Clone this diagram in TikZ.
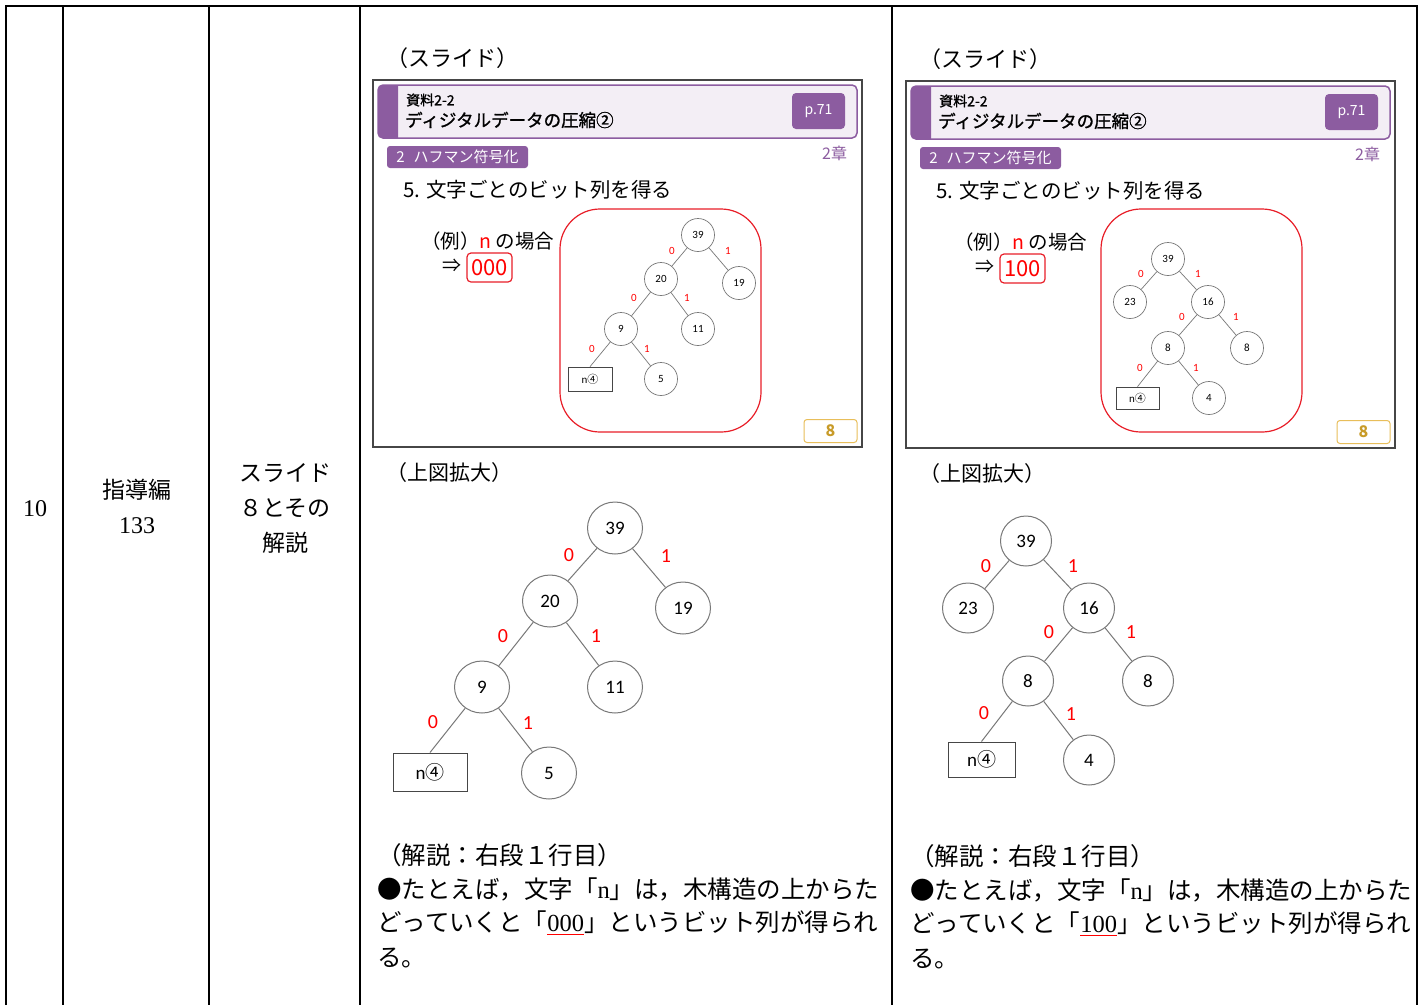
\documentclass[tikz,border=0pt]{standalone}
\usepackage{fontspec}
\usetikzlibrary{shapes.geometric}
\setmainfont{Liberation Serif}
\newfontfamily\jp{Noto Sans CJK JP}
\newfontfamily\jpm[FakeBold=1.2]{Noto Sans CJK JP}
\newfontfamily\calfont{Carlito}
\newcommand\fsz[1]{\fontsize{#1}{#1}\selectfont}
\definecolor{spurple}{RGB}{140,92,160}
\definecolor{slav}{RGB}{243,238,245}
\definecolor{sred}{RGB}{232,30,40}
\definecolor{lblred}{RGB}{255,0,0}
\definecolor{sgold}{RGB}{232,190,90}
\definecolor{sgoldtxt}{RGB}{200,155,40}
\definecolor{edgegray}{RGB}{120,120,120}
\definecolor{framec}{RGB}{70,70,70}
\newcommand\redul[1]{\setbox0\hbox{#1}\rlap{\textcolor{red}{\rule[-4pt]{\wd0}{1.5pt}}}\box0}
\tikzset{
  tbl/.style={line width=2.5pt, black},
  txt/.style={inner sep=0pt, anchor=west},
  ctxt/.style={inner sep=0pt, align=center},
  bc/.style={ellipse, draw=edgegray, line width=1pt, minimum width=55pt, minimum height=52pt, inner sep=0pt, font=\calfont\fsz{19}},
  bbox/.style={rectangle, draw=framec, line width=1pt, inner sep=0pt, font=\calfont\fsz{19}},
  bl/.style={text=lblred, font=\calfont\fsz{20}, inner sep=0pt},
  be/.style={draw=edgegray, line width=1pt},
  sc/.style={circle, draw=edgegray, line width=0.7pt, minimum size=33pt, inner sep=0pt, font=\calfont\fsz{11}},
  sbox/.style={rectangle, draw=framec, line width=0.7pt, inner sep=0pt, font=\calfont\fsz{11}},
  sl/.style={text=lblred, font=\calfont\fsz{11}, inner sep=0pt},
  se/.style={draw=edgegray, line width=0.7pt},
  redarea/.style={draw=sred, line width=1.2pt, rounded corners=40pt},
}
\newcommand\slideframe[3]{%
\begin{scope}[shift={#2}]
  \node[txt, font=\jp\fsz{22}] (#1cap) at (386,58) {（スライド）};
  \draw[draw=framec, line width=1.2pt] (373,80) rectangle (862,447);
  \fill[slav, rounded corners=5pt] (378,85) rectangle (857,138);
  \fill[spurple] (398,85) [rounded corners=5pt]-- (378,85) -- (378,138) [sharp corners]-- (398,138) -- cycle;
  \draw[spurple, line width=1.5pt, rounded corners=5pt] (378,85) rectangle (857,138);
  \node[txt, font=\jpm\fsz{14}] (#1src) at (406,100) {資料2-2};
  \node[txt, font=\jpm\fsz{17.5}] (#1title) at (405,120) {ディジタルデータの圧縮②};
  \node[fill=spurple, rounded corners=4pt, minimum width=53pt, minimum height=36pt, inner sep=0pt, text=white, font=\jp\fsz{14}] (#1pg) at (818.5,111) {p.71};
  \node[fill=spurple, rounded corners=3pt, minimum width=141pt, minimum height=22pt, inner sep=0pt, text=white, font=\jp\fsz{15}] (#1tag) at (457.5,157) {2\hspace{0.6em}ハフマン符号化};
  \node[txt, text=spurple, font=\jp\fsz{16}] (#1ch) at (822,153) {2章};
  \node[txt, font=\jp\fsz{20.5}] (#1step) at (403,190) {5. 文字ごとのビット列を得る};
  \node[txt, font=\jp\fsz{19.5}] (#1ex) at (421,241) {（例）\textcolor{lblred}{n} の場合};
  \node[txt, font=\jp\fsz{19}] (#1arr) at (442,266) {⇒};
  \node[draw=sred, rounded corners=4pt, line width=1.2pt, text=lblred, font=\jp\fsz{22}, minimum width=45pt, minimum height=29pt, inner sep=0pt] (#1bits) at (489.5,267.5) {#3};
  \node[draw=sgold, line width=1pt, rounded corners=3pt, minimum width=53pt, minimum height=23pt, inner sep=0pt, text=sgoldtxt, font=\jp\bfseries\fsz{16}] (#1num) at (830.5,431) {8};
  \node[txt, font=\jp\fsz{21}] (#1zoom) at (386,473) {（上図拡大）};
  \node[txt, font=\jp\fsz{24.5}] (#1l1) at (377,855) {（解説：右段１行目）};
  \node[txt, font=\jp\fsz{24.5}] (#1l2) at (377,889) {●たとえば，文字「{\rmfamily n}」は，木構造の上からた};
  \node[txt, font=\jp\fsz{24.5}] (#1l3) at (377,923) {どっていくと「\redul{\rmfamily #3}」というビット列が得られ};
  \node[txt, font=\jp\fsz{24.5}] (#1l4) at (377,958) {る。};
\end{scope}}
\begin{document}
\begin{tikzpicture}[x=1pt, y=-1pt]
\useasboundingbox[fill=white] (0,0) rectangle (1420,1005);
% table
\draw[tbl] (6,1005) -- (6,6) -- (1417,6) -- (1417,1005);
\foreach \x in {63,209,360,892} \draw[tbl] (\x,6) -- (\x,1005);
\node[ctxt, font=\fsz{24}] (c1) at (35,509) {10};
\node[ctxt, font=\jp\fsz{23}] (c2a) at (137,490) {指導編};
\node[ctxt, font=\fsz{24}] (c2b) at (137,526) {133};
\node[ctxt, font=\jp\fsz{23}] (c3a) at (285,473) {スライド};
\node[ctxt, font=\jp\fsz{23}] (c3b) at (285,508) {８とその};
\node[ctxt, font=\jp\fsz{23}] (c3c) at (285,543) {解説};
% slides
\slideframe{a}{(0,0)}{000}
\slideframe{b}{(533,1)}{100}
% ---- slide 1 small tree
\draw[redarea] (560,209) rectangle (761,432);
\node[sc] (s1r) at (698,235) {39};
\node[sc] (s1a) at (661,279) {20};
\node[sc] (s1b) at (739,283) {19};
\node[sc] (s1c) at (621,329) {9};
\node[sc] (s1d) at (698,329) {11};
\node[sbox, minimum width=44pt, minimum height=24pt] (s1n) at (590,379) {n{\jp ④}};
\node[sc] (s1e) at (661,379) {5};
\draw[se] (s1r) -- (s1a); \draw[se] (s1r) -- (s1b);
\draw[se] (s1a) -- (s1c); \draw[se] (s1a) -- (s1d);
\draw[se] (s1c) -- (s1n.north); \draw[se] (s1c) -- (s1e);
\node[sl] (s1l1) at (672,251) {0}; \node[sl] (s1l2) at (728,251) {1};
\node[sl] (s1l3) at (634,298) {0}; \node[sl] (s1l4) at (687,298) {1};
\node[sl] (s1l5) at (592,349) {0}; \node[sl] (s1l6) at (647,349) {1};
% ---- slide 2 small tree
\draw[redarea] (1101,209) rectangle (1302,432);
\node[sc] (s2r) at (1168,259) {39};
\node[sc] (s2a) at (1130,302) {23};
\node[sc] (s2b) at (1208,302) {16};
\node[sc] (s2c) at (1168,348) {8};
\node[sc] (s2d) at (1247,348) {8};
\node[sbox, minimum width=43pt, minimum height=22pt] (s2n) at (1137.5,398) {n{\jp ④}};
\node[sc] (s2e) at (1209,398) {4};
\draw[se] (s2r) -- (s2a); \draw[se] (s2r) -- (s2b);
\draw[se] (s2b) -- (s2c); \draw[se] (s2b) -- (s2d);
\draw[se] (s2c) -- (s2n.north); \draw[se] (s2c) -- (s2e);
\node[sl] (s2l1) at (1141,274) {0}; \node[sl] (s2l2) at (1198,274) {1};
\node[sl] (s2l3) at (1182,317) {0}; \node[sl] (s2l4) at (1236,317) {1};
\node[sl] (s2l5) at (1140,368) {0}; \node[sl] (s2l6) at (1196,368) {1};
% ---- big tree 1
\node[bc] (b1r) at (615,528) {39};
\node[bc] (b1a) at (550,601) {20};
\node[bc] (b1b) at (683,608) {19};
\node[bc] (b1c) at (482,687) {9};
\node[bc] (b1d) at (615,687) {11};
\node[bbox, minimum width=74pt, minimum height=38pt] (b1n) at (430,772) {n{\jp ④}};
\node[bc] (b1e) at (549,773) {5};
\draw[be] (b1r) -- (b1a); \draw[be] (b1r) -- (b1b);
\draw[be] (b1a) -- (b1c); \draw[be] (b1a) -- (b1d);
\draw[be] (b1c) -- (b1n.north); \draw[be] (b1c) -- (b1e);
\node[bl] (b1l1) at (569,555) {0}; \node[bl] (b1l2) at (666,556) {1};
\node[bl] (b1l3) at (503,636) {0}; \node[bl] (b1l4) at (596,636) {1};
\node[bl] (b1l5) at (433,722) {0}; \node[bl] (b1l6) at (528,723) {1};
% ---- big tree 2
\begin{scope}[bc/.append style={minimum width=51pt, minimum height=50pt}]
\node[bc] (b2r) at (1026,541) {39};
\node[bc] (b2a) at (968,608) {23};
\node[bc] (b2b) at (1089,608) {16};
\node[bc] (b2c) at (1028,681) {8};
\node[bc] (b2d) at (1148,681) {8};
\node[bbox, minimum width=67pt, minimum height=35pt] (b2n) at (981.5,759.5) {n{\jp ④}};
\node[bc] (b2e) at (1089,760) {4};
\end{scope}
\draw[be] (b2r) -- (b2a); \draw[be] (b2r) -- (b2b);
\draw[be] (b2b) -- (b2c); \draw[be] (b2b) -- (b2d);
\draw[be] (b2c) -- (b2n.north); \draw[be] (b2c) -- (b2e);
\node[bl] (b2l1) at (986,566) {0}; \node[bl] (b2l2) at (1073,566) {1};
\node[bl] (b2l3) at (1049,632) {0}; \node[bl] (b2l4) at (1131,632) {1};
\node[bl] (b2l5) at (984,713) {0}; \node[bl] (b2l6) at (1071,714) {1};
\end{tikzpicture}
\end{document}
